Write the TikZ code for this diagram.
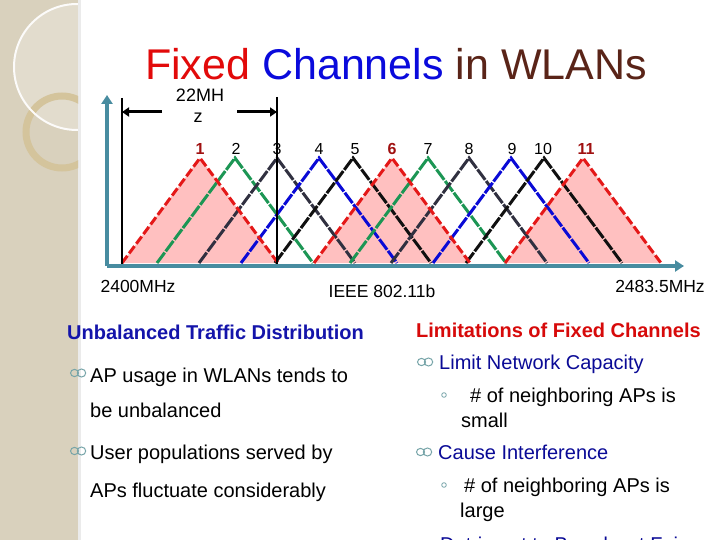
\documentclass[tikz,border=0pt]{standalone}
\usepackage{fontspec}
\setmainfont{Liberation Sans}
\usetikzlibrary{arrows.meta, positioning}
\definecolor{strip}{RGB}{217,209,189}
\definecolor{ringtan}{RGB}{212,196,156}
\definecolor{axisteal}{RGB}{72,140,160}
\definecolor{chred}{RGB}{228,24,24}
\definecolor{chgreen}{RGB}{28,150,84}
\definecolor{chslate}{RGB}{48,48,64}
\definecolor{chblue}{RGB}{10,10,214}
\definecolor{chblack}{RGB}{16,16,16}
\definecolor{chpink}{RGB}{255,192,192}
\definecolor{numred}{RGB}{160,16,16}
\definecolor{titlered}{RGB}{226,10,10}
\definecolor{titleblue}{RGB}{10,10,220}
\definecolor{titlebrown}{RGB}{90,36,24}
\definecolor{headblue}{RGB}{20,20,170}
\definecolor{headred}{RGB}{215,10,10}
\definecolor{itemblue}{RGB}{10,10,150}
\definecolor{bulletgray}{RGB}{118,164,168}

\begin{document}
\begin{tikzpicture}[
    x=1pt, y=-1pt,
    chline/.style={line width=3pt, dash pattern=on 13pt off 1.5pt},
    redline/.style={line width=3pt, chred, dash pattern=on 9pt off 3pt},
    chnum/.style={anchor=base, inner sep=0pt, font=\fontsize{16}{18}\selectfont},
    rednum/.style={chnum, text=numred, font=\fontsize{16}{18}\selectfont\bfseries},
    freqlbl/.style={anchor=base, inner sep=0pt, font=\fontsize{17.5}{20}\selectfont},
    head/.style={anchor=base west, inner sep=0pt, font=\fontsize{20}{24}\selectfont\bfseries},
    body/.style={anchor=base west, inner sep=0pt, font=\fontsize{20}{24}\selectfont},
    marker/.style={black, line width=2.6pt},
    axisline/.style={axisteal, line width=4.5pt, -{Triangle[length=9pt, width=11pt]}},
    span/.style={black, line width=3pt, -{Triangle[length=7pt, width=9pt]}},
    curl/.pic={
      \draw[bulletgray, line width=1pt] (-3.5,0) ellipse (4 and 3.6);
      \draw[bulletgray, line width=1pt] (3.5,0) ellipse (4.2 and 4);
    }
]
    \useasboundingbox (0,0) rectangle (720,540);
    \clip (0,0) rectangle (720,540);
    \fill[white] (0,0) rectangle (720,540);

    % left strip with rings
    \begin{scope}
      \clip (0,0) rectangle (78,540);
      \fill[strip] (0,0) rectangle (78,540);
      \fill[white, opacity=0.25] (77,67) circle (63);
      \draw[ringtan, line width=7pt] (62,132) circle (36);
      \draw[white!92!strip, line width=2pt] (77,67) circle (63);
    \end{scope}
    \fill[black, opacity=0.08] (78,0) rectangle (81,540);

    % title
    \node[anchor=base, inner sep=0pt, font=\fontsize{43}{48}\selectfont] (title) at (396,80)
      {\textcolor{titlered}{Fixed} \textcolor{titleblue}{Channels} \textcolor{titlebrown}{in WLANs}};

    % channel fills
    \foreach \px in {200,392,583}
      \fill[chpink] (\px-78,263) -- (\px,158) -- (\px+78,263) -- cycle;

    % channel edges
    \foreach \px/\col in {235/chgreen, 277/chslate, 319/chblue, 353/chblack,
        428/chgreen, 469/chslate, 511/chblue, 544/chblack}
      \draw[chline, draw=\col] (\px-78,263) -- (\px,158) -- (\px+78,263);
    \foreach \px in {200,392,583}
      \draw[redline] (\px-78,263) -- (\px,158) -- (\px+78,263);

    % channel numbers
    \foreach \px/\num in {236/2, 277/3, 319/4, 355/5, 428/7, 469/8, 512/9, 543/10}
      \node[chnum] (ch\num) at (\px,155) {\num};
    \node[rednum] (ch1) at (200,155) {1};
    \node[rednum] (ch6) at (392,155) {6};
    \node[rednum] (ch11) at (586,155) {11};

    % axes
    \coordinate (origin) at (107,266);
    \coordinate (ytop) at (107,95);
    \coordinate (xend) at (684,266);
    \draw[axisline] (origin) -- (ytop);
    \draw[axisline] (origin) -- (xend);

    % 22 MHz span
    \coordinate (ltop) at (122,98);
    \coordinate (lbot) at (122,264);
    \coordinate (rtop) at (277,97);
    \coordinate (rbot) at (277,264);
    \draw[marker] (ltop) -- (lbot);
    \draw[marker] (rtop) -- (rbot);
    \coordinate (lstart) at (162,112);
    \coordinate (rstart) at (237,112);
    \draw[span] (lstart) -- (122,112);
    \draw[span] (rstart) -- (277,112);
    \node[anchor=base, inner sep=0pt, font=\fontsize{18}{20}\selectfont] (mhz) at (200,102) {22MH};
    \node[anchor=base, inner sep=0pt, font=\fontsize{18}{20}\selectfont] (mhzz) at (198,123) {z};

    % frequency labels
    \node[freqlbl] (fmin) at (138,292) {2400MHz};
    \node[freqlbl] (std) at (382,297) {IEEE 802.11b};
    \node[freqlbl] (fmax) at (660,292) {2483.5MHz};

    % left column
    \node[head, text=headblue] (lhead) at (67,339) {Unbalanced Traffic Distribution};
    \pic at (78,373) {curl};
    \node[body] (l1) at (90,382) {AP usage in WLANs tends to};
    \node[body] (l1b) at (90,417) {be unbalanced};
    \pic at (78,451) {curl};
    \node[body] (l2) at (90,459) {User populations served by};
    \node[body] (l2b) at (90,497) {APs fluctuate considerably};

    % right column
    \node[head, text=headred] (rhead) at (416,337) {Limitations of Fixed Channels};
    \pic at (425,362) {curl};
    \node[body, text=itemblue] (r1) at (439,369) {Limit Network Capacity};
    \draw[bulletgray, line width=0.8pt] (444,395) circle (2.3);
    \node[body] (r1a) at (470,402) {\# of neighboring APs is};
    \node[body] (r1b) at (461,427) {small};
    \pic at (424,452) {curl};
    \node[body, text=itemblue] (r2) at (438,459) {Cause Interference};
    \draw[bulletgray, line width=0.8pt] (444,485) circle (2.3);
    \node[body] (r2a) at (464,492) {\# of neighboring APs is};
    \node[body] (r2b) at (460,517) {large};
    \node[body, text=itemblue] (r3) at (440,551) {Detriment to Broadcast Fairness};
\end{tikzpicture}
\end{document}
